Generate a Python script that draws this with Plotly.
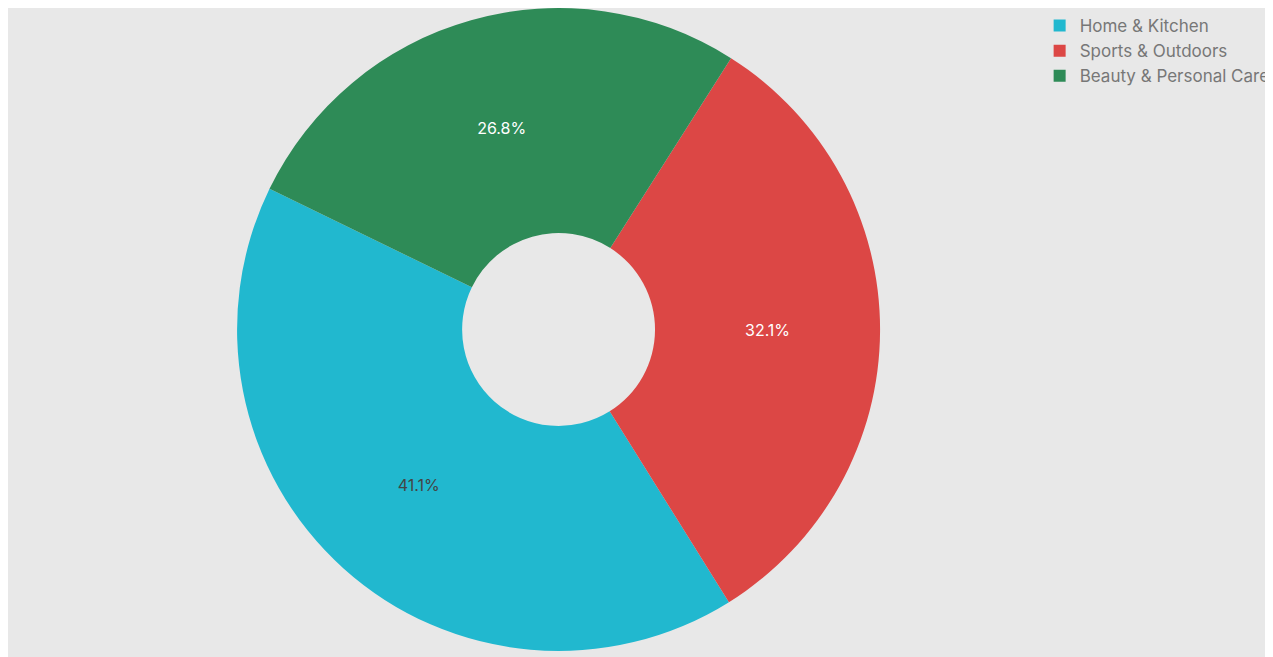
import plotly.graph_objects as go

categories = ["Home & Kitchen", "Sports & Outdoors", "Beauty & Personal Care"]
values = [41.1, 32.1, 26.8]
colors = ["#21b8cf", "#dc4745", "#2e8b57"]

fig = go.Figure(go.Pie(
    labels=categories, values=values, hole=0.3, sort=False, direction="counterclockwise",
    rotation=148,
    marker=dict(colors=colors), textinfo="percent", textposition="inside",
    texttemplate="%{percent:.1%}",
    textfont=dict(family="Inter", size=16),
    domain=dict(x=[0, 0.865], y=[0, 1]),
))
fig.update_layout(
    width=1273, height=657,
    paper_bgcolor="#e8e8e8", plot_bgcolor="#e8e8e8",
    margin=dict(l=0, r=0, t=0, b=14),
    font=dict(family="Inter", color="#777777"),
    legend=dict(x=0.995, y=1.0, xanchor="right", yanchor="top",
                font=dict(size=17, color="#777777"), bgcolor="rgba(0,0,0,0)"),
)
fig.write_html("out.html")
